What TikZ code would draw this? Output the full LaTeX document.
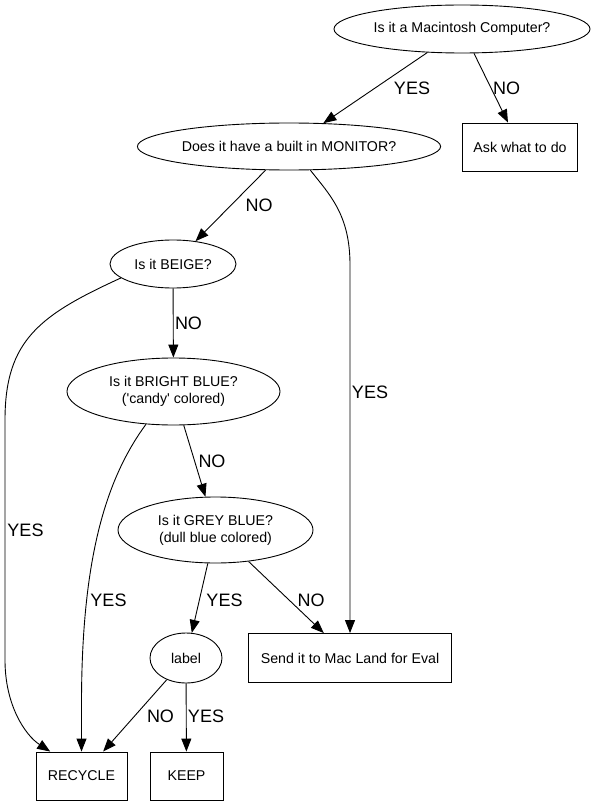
\documentclass[tikz,border=0pt]{standalone}
\usepackage{fontspec}
\setmainfont{Liberation Sans}
\usetikzlibrary{shapes.geometric,arrows.meta}

\begin{document}
\begin{tikzpicture}[x=1pt,y=-1pt,line width=0.9pt,
  every node/.style={align=center,font=\fontsize{14.2}{17}\selectfont},
  question/.style={draw,ellipse,inner sep=0pt},
  answer/.style={draw,rectangle,inner sep=0pt,minimum height=48pt},
  edgelbl/.style={font=\fontsize{18}{20}\selectfont,inner sep=0pt},
  flow/.style={-{Triangle[length=13pt,width=10pt]}}]
\useasboundingbox (0,0) rectangle (596,805);
% questions
\node[question,minimum width=256pt,minimum height=48pt] (mac) at (462,29) {Is it a Macintosh Computer?};
\node[question,minimum width=302pt,minimum height=47pt] (monitor) at (289,146.5) {Does it have a built in MONITOR?};
\node[question,minimum width=126pt,minimum height=48pt] (beige) at (173,264) {Is it BEIGE?};
\node[question,minimum width=213pt,minimum height=67pt] (bright) at (173.5,391.5) {Is it BRIGHT BLUE?\\(\textquotesingle candy\textquotesingle\ colored)};
\node[question,minimum width=195pt,minimum height=66pt] (grey) at (215.5,530) {Is it GREY BLUE?\\(dull blue colored)};
\node[question,minimum width=72pt,minimum height=50pt] (label) at (186,658) {label};
% answers
\node[answer,minimum width=115pt] (ask) at (520,147) {Ask what to do};
\node[answer,minimum width=203pt,minimum height=49pt] (send) at (350,658) {Send it to Mac Land for Eval};
\node[answer,minimum width=91pt] (recycle) at (81.5,776) {RECYCLE};
\node[answer,minimum width=73pt] (keep) at (186.5,776) {KEEP};
% connectors
\draw[flow] (mac) -- (monitor) node[edgelbl] at (412,88) {YES};
\draw[flow] (mac) -- (ask) node[edgelbl] at (506.5,88) {NO};
\draw[flow] (monitor) -- (beige) node[edgelbl] at (259,205.5) {NO};
\draw[flow] (monitor.-48) .. controls (330,195) and (350,215) .. (350,265) -- (send.north)
  node[edgelbl] at (370,392) {YES};
\draw[flow] (beige) -- (bright) node[edgelbl] at (188.5,323) {NO};
\draw[flow] (beige.195.5) .. controls (40,315) and (5,340) .. (5,420) -- (5,660)
  .. controls (5,705) and (25,735) .. (recycle.142.7) node[edgelbl] at (25.5,530.5) {YES};
\draw[flow] (bright.230.7) .. controls (105,480) and (82,560) .. (81.5,700) -- (recycle.north)
  node[edgelbl] at (108.5,600) {YES};
\draw[flow] (bright) -- (grey) node[edgelbl] at (212,461) {NO};
\draw[flow] (grey) -- (label) node[edgelbl] at (224.5,600) {YES};
\draw[flow] (grey) -- (send) node[edgelbl] at (311,600) {NO};
\draw[flow] (label) -- (recycle) node[edgelbl] at (160.5,716.5) {NO};
\draw[flow] (label) -- (keep) node[edgelbl] at (206,716.5) {YES};
\end{tikzpicture}
\end{document}
